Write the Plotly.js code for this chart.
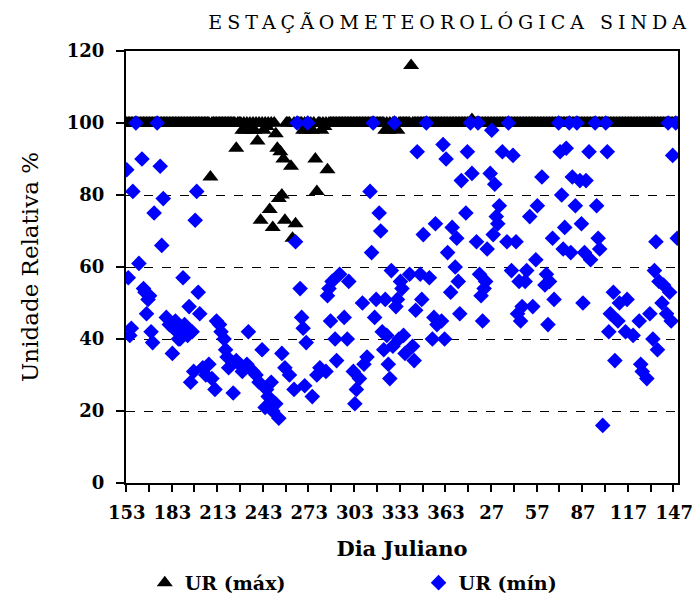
<!DOCTYPE html>
<html>
<head>
<meta charset="utf-8">
<script src="https://cdn.plot.ly/plotly-3.0.1.min.js"></script>
<style>html,body{margin:0;padding:0;background:#fff}</style>
</head>
<body>
<div id="chart" style="width:694px;height:598px"></div>
<script>
// Julian days shown on the category axis (June 2 -> end of May, leap year)
const days = [];
for (let d = 153; d <= 366; d++) days.push(d);
for (let d = 1; d <= 149; d++) days.push(d);

// UR (máx) – one value per day, in day order (rows of 30 days)
const urMax = [
 100,100,100,100,100,100,100,100,100,100,100,100,100,100,100,100,100,100,100,100,100,100,100,100,100,100,100,100,100,100,
 100,100,100,100,100,100,100,100,100,100,100,100,100,100,100,100,100,100,100,100,100,100,100,100,100,85,100,100,100,100,
 100,100,100,100,100,100,100,100,100,100,100,100,93,100,100,100,98,100,98,100,99,100,98,100,98,100,95,100,73,100,
 98,100,99,100,76,100,71,100,97,93,79,92,80,90,73,100,100,100,88,68,100,72,100,100,100,100,98,100,98,100,
 99,100,98,100,90,81,100,100,98,100,99,100,87,100,100,100,100,100,100,100,100,100,100,100,100,100,100,100,100,100,
 100,100,100,100,100,100,100,100,100,100,100,100,100,100,100,100,100,100,100,100,98,100,98,100,99,100,100,100,98,100,
 100,100,100,100,100,100,100,116,100,100,100,100,100,100,100,100,100,100,100,100,100,100,100,100,100,100,100,100,100,100,
 100,100,100,100,100,100,100,100,100,100,100,100,100,100,100,100,100,101,100,100,100,100,100,100,100,100,100,100,100,100,
 100,100,100,100,100,100,100,100,100,100,100,100,100,100,100,100,100,100,100,100,100,100,100,100,100,100,100,100,100,100,
 100,100,100,100,100,100,100,100,100,100,100,100,100,100,100,100,100,100,100,100,100,100,100,100,100,100,100,100,100,100,
 100,100,100,100,100,100,100,100,100,100,100,100,100,100,100,100,100,100,100,100,100,100,100,100,100,100,100,100,100,100,
 100,100,100,100,100,100,100,100,100,100,100,100,100,100,100,100,100,100,100,100,100,100,100,100,100,100,100,100,100,100,
 100,100,100
];

// UR (mín) – readable points: position of the day in the series and value
const minDay = [
 0,1,2,3,4,6,8,10,11,12,13,14,15,16,17,18,20,22,23,24,26,28,30,32,33,34,35,36,37,38,40,41,42,43,44,45,46,47,48,50,
 52,54,56,58,59,61,62,64,65,66,67,70,72,74,76,79,80,83,85,87,89,91,92,93,95,96,98,100,102,104,107,110,111,112,114,115,116,117,118,119,
 122,125,127,131,132,133,134,135,137,138,140,143,145,146,149,150,151,153,155,156,158,160,161,162,163,164,166,167,168,169,170,171,172,173,174,175,176,177,178,179,
 180,181,182,183,186,188,189,190,191,193,194,195,197,199,201,202,203,204,207,208,209,210,211,213,214,216,217,218,219,220,223,224,226,227,230,231,232,233,234,235,
 236,237,239,240,241,242,243,244,245,247,250,251,253,254,256,257,258,259,260,262,263,265,267,269,270,273,275,276,277,278,280,281,284,285,286,287,288,289,291,292,
 293,295,296,298,299,300,301,302,304,305,308,309,310,311,313,315,316,317,318,320,321,323,324,328,329,333,337,338,339,342,344,346,347,348,349,350,352,353,355,356,
 357,358,359,361,362
];
const urMin = [
 87,57,41,43,81,100,61,90,54,53,47,51,52,42,39,75,100,88,66,79,46,44,36,45,42,40,40,43,57,44,41,49,28,42,31,73,81,53,47,32,
 30,33,29,26,45,44,42,40,37,35,32,25,34,33,31,33,42,31,30,28,37,21,26,24,28,20,22,18,36,32,30,26,67,100,54,46,43,27,39,100,
 24,30,32,31,52,54,45,56,40,34,58,46,40,56,31,22,26,29,50,33,35,81,64,100,46,51,75,70,42,37,51,41,33,29,59,38,100,49,51,40,
 56,54,41,36,58,38,34,48,92,58,51,69,100,57,40,46,72,44,45,94,40,90,64,53,71,60,68,56,47,84,75,92,100,86,67,100,58,52,45,54,
 56,65,86,98,69,83,74,72,77,92,67,100,59,91,67,47,56,45,49,56,59,74,49,62,77,85,55,58,44,56,68,51,100,92,80,65,71,93,100,64,
 85,77,100,84,72,50,64,84,92,62,100,77,68,65,16,100,92,42,47,53,34,45,50,42,51,41,45,33,31,29,47,40,59,67,37,56,50,55,47,100,
 53,45,91,100,68
];

const tickIdx = [0, 30, 60, 90, 120, 150, 180, 210, 240, 270, 300, 330, 360];
const serif = 'DejaVu Serif, serif';

const traces = [
  {
    name: 'UR (máx)', type: 'scatter', mode: 'markers',
    x: urMax.map((v, i) => i), y: urMax,
    marker: {symbol: 'triangle-up', size: 14, color: '#000000'},
    legend: 'legend'
  },
  {
    name: 'UR (mín)', type: 'scatter', mode: 'markers',
    x: minDay, y: urMin,
    marker: {symbol: 'diamond', size: 12, color: '#0000FF'},
    legend: 'legend2'
  }
];

const layout = {
  width: 694, height: 598,
  margin: {l: 126, r: 16, t: 51, b: 115, autoexpand: false},
  paper_bgcolor: '#ffffff', plot_bgcolor: '#ffffff',
  showlegend: true,
  title: {
    text: '<span style="letter-spacing:5px">ESTAÇÃOMETEOROLÓGICA SINDA</span>',
    font: {family: serif, size: 19, color: '#000'},
    x: 0.648, xanchor: 'center', xref: 'container',
    y: 0.963, yanchor: 'middle', yref: 'container'
  },
  xaxis: {
    range: [-0.5, 362.5], automargin: false,
    tickmode: 'array', tickvals: tickIdx, ticktext: tickIdx.map(i => String(days[i])),
    ticks: '', ticklabelstandoff: 12,
    tickfont: {family: serif, size: 18, color: '#000', weight: 'bold'},
    minor: {tick0: -0.5, dtick: 15, ticks: 'outside', ticklen: 7, tickwidth: 1.5, tickcolor: '#000', showgrid: false},
    showline: true, linecolor: '#000', linewidth: 2, mirror: true,
    showgrid: false, zeroline: false,
    title: {text: 'Dia Juliano', font: {family: serif, size: 21, color: '#000', weight: 'bold'}, standoff: 20}
  },
  yaxis: {
    range: [0, 120], dtick: 20, tick0: 0, automargin: false,
    ticks: 'outside', ticklen: 8, tickwidth: 1.5, tickcolor: '#000',
    ticklabelstandoff: 8,
    tickfont: {family: serif, size: 18, color: '#000', weight: 'bold'},
    showline: true, linecolor: '#000', linewidth: 2, mirror: true,
    showgrid: true, gridcolor: '#000', gridwidth: 1, griddash: 'dash',
    zeroline: false,
    title: {text: 'Unidade Relativa %', font: {family: serif, size: 23, color: '#000'}, standoff: 22}
  },
  legend: {
    x: 0.034, y: -0.231, xanchor: 'left', yanchor: 'middle',
    orientation: 'h', bgcolor: 'rgba(0,0,0,0)',
    font: {family: serif, size: 19, color: '#000', weight: 'bold'},
    itemwidth: 30
  },
  legend2: {
    x: 0.53, y: -0.231, xanchor: 'left', yanchor: 'middle',
    orientation: 'h', bgcolor: 'rgba(0,0,0,0)',
    font: {family: serif, size: 19, color: '#000', weight: 'bold'},
    itemwidth: 30
  }
};

Plotly.newPlot('chart', traces, layout, {displayModeBar: false, responsive: false});
</script>
</body>
</html>
